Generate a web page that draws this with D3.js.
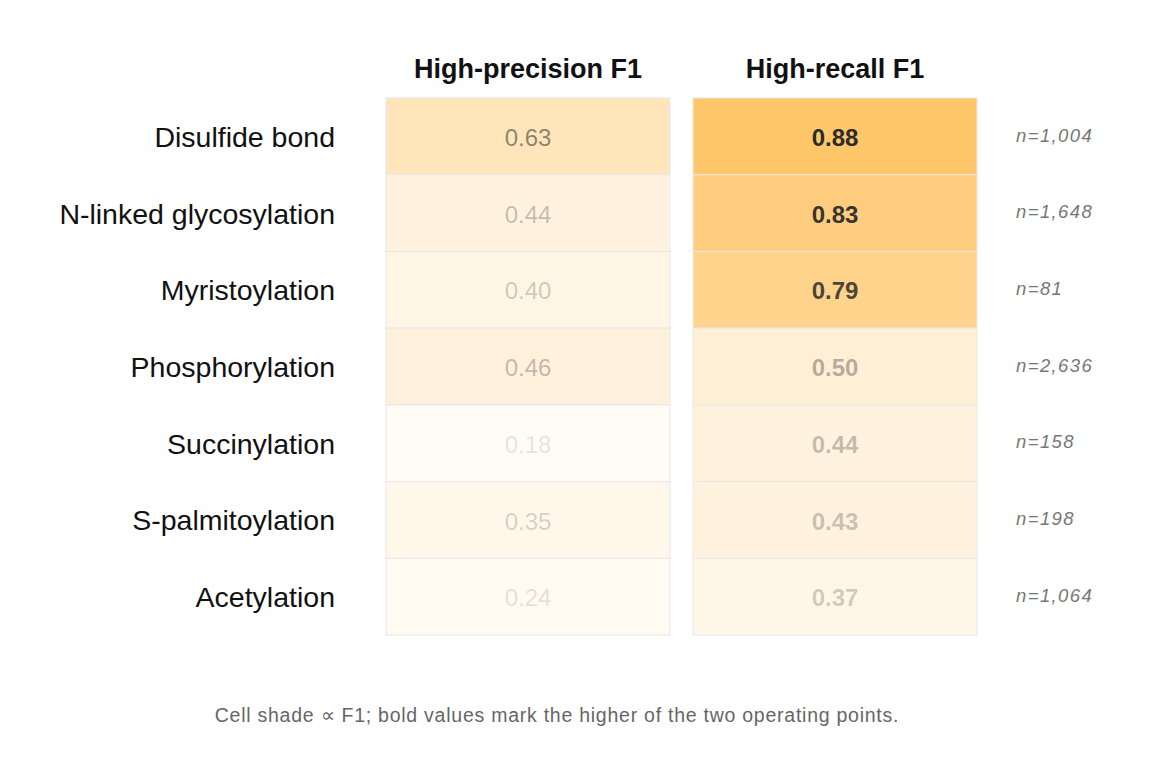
<!DOCTYPE html>
<html><head><meta charset="utf-8">
<script src="https://cdn.jsdelivr.net/npm/d3@7"></script>
<style>body{margin:0;background:#fff}svg{display:block}text{font-family:"Liberation Sans",Arial,sans-serif}</style>
</head><body><svg id="c" width="1150" height="781"></svg>
<script>
const categories = ["Disulfide bond","N-linked glycosylation","Myristoylation","Phosphorylation","Succinylation","S-palmitoylation","Acetylation"];
const columns = ["High-precision F1","High-recall F1"];
const highPrecision = [0.63,0.44,0.40,0.46,0.18,0.35,0.24];
const highRecall = [0.88,0.83,0.79,0.50,0.44,0.43,0.37];
const counts = ["n=1,004","n=1,648","n=81","n=2,636","n=158","n=198","n=1,064"];
const footnote = "Cell shade \u221D F1; bold values mark the higher of the two operating points.";

const svg = d3.select("#c");
const x = d3.scaleBand().domain(columns).range([386,977]).paddingInner(0.075);
const y = d3.scaleBand().domain(categories).range([98,635]);
const shade = d3.scalePow().exponent(2.5).domain([0,0.88]).range([0.05,1]).clamp(true);
const fill = v => d3.interpolateRgb("#ffffff","#ffc66a")(shade(v));

const cells = [];
categories.forEach((c,i)=>{
  const a = highPrecision[i], b = highRecall[i];
  cells.push({cat:c,col:columns[0],v:a,bold:a>=b});
  cells.push({cat:c,col:columns[1],v:b,bold:b>a});
});

svg.selectAll("rect.cell").data(cells).join("rect").attr("class","cell")
  .attr("x",d=>x(d.col)).attr("y",d=>y(d.cat))
  .attr("width",x.bandwidth()).attr("height",y.bandwidth())
  .attr("fill",d=>fill(d.v)).attr("stroke","#e8e8e8").attr("stroke-width",1);

svg.selectAll("text.val").data(cells).join("text").attr("class","val")
  .attr("x",d=>x(d.col)+x.bandwidth()/2).attr("y",d=>y(d.cat)+y.bandwidth()/2)
  .attr("dy","0.4em").attr("text-anchor","middle")
  .attr("font-size",24).attr("font-weight",d=>d.bold?"bold":"normal")
  .attr("fill","#2b2b2b").attr("fill-opacity",d=>Math.min(1,shade(d.v)*1.05+0.05))
  .text(d=>d3.format(".2f")(d.v));

svg.selectAll("text.hdr").data(columns).join("text").attr("class","hdr")
  .attr("x",d=>x(d)+x.bandwidth()/2).attr("y",78).attr("text-anchor","middle")
  .attr("font-size",27).attr("font-weight","bold").attr("fill","#111").text(d=>d);

svg.selectAll("text.row").data(categories).join("text").attr("class","row")
  .attr("x",335).attr("y",d=>y(d)+y.bandwidth()/2).attr("dy","0.37em")
  .attr("text-anchor","end").attr("font-size",28.5).attr("fill","#111").text(d=>d);

svg.selectAll("text.n").data(categories).join("text").attr("class","n")
  .attr("x",1016).attr("y",d=>y(d)+y.bandwidth()/2).attr("dy","0.28em")
  .attr("font-size",18.5).attr("letter-spacing","1.4px").attr("font-style","italic").attr("fill","#777")
  .text((d,i)=>counts[i]);

svg.append("text").attr("x",557).attr("y",722).attr("text-anchor","middle")
  .attr("font-size",19.5).attr("letter-spacing","0.75px").attr("fill","#666").text(footnote);
</script></body></html>
